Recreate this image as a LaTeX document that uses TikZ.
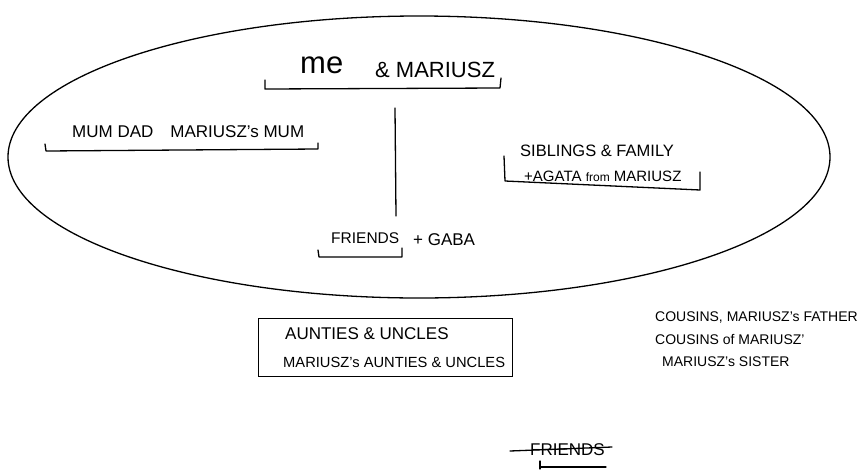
\documentclass[tikz,border=0pt]{standalone}
\usepackage{fontspec}
\setmainfont{Liberation Sans}
\begin{document}
\begin{tikzpicture}[x=1pt,y=-1pt,
  ink/.style={line width=1.3pt,line cap=round,line join=round,black},
  hand/.style={inner sep=0pt,font=\fontsize{17}{19}\selectfont,anchor=west},
  small/.style={inner sep=0pt,font=\fontsize{14}{16}\selectfont,anchor=west},
  big/.style={inner sep=0pt,font=\fontsize{31}{33}\selectfont,anchor=west}]
\useasboundingbox (0,0) rectangle (865,469);
% outer ellipse
\draw[ink] (419,157) ellipse [x radius=411, y radius=141];
% top node
\node[big] (me) at (300,65) {me};
\node[inner sep=0pt,font=\fontsize{22}{24}\selectfont,anchor=west] (mar) at (375,70) {\& MARIUSZ};
\coordinate (meL) at (265,80);
\coordinate (meR) at (501,78);
\draw[ink] (meL) -- ++(0,9) -- (500,88) -- (meR);
% vertical line
\coordinate (vt) at (395,108);
\coordinate (vb) at (396,216);
\draw[ink] (vt) -- (vb);
% left group
\node[hand] (parents) at (72,132) {MUM DAD\quad MARIUSZ's MUM};
\draw[ink] (45,144) -- (46,151) -- (318,149) -- (318,143);
% right group
\node[small,font=\fontsize{16.5}{18}\selectfont] (sib) at (520,151) {SIBLINGS \& FAMILY};
\node[small,font=\fontsize{15}{18}\selectfont] (agata) at (524,176) {+AGATA {\fontsize{12}{13}\selectfont from} MARIUSZ};
\draw[ink] (504,156) -- (505,181) -- (700,190) -- (700,172);
% friends
\node[hand,font=\fontsize{15.5}{17}\selectfont] (friends) at (331,238) {FRIENDS};
\node[hand] (gaba) at (413,240) {+ GABA};
\draw[ink] (318,250) -- (319,257) -- (402,257) -- (402,248);
% box
\node[draw,line width=1pt,minimum width=254pt,minimum height=58pt,inner sep=0pt] (box) at (385,347) {};
\node[hand] (aunts) at (285,334) {AUNTIES \& UNCLES};
\node[hand,font=\fontsize{14.7}{17}\selectfont] (maunts) at (283,362) {MARIUSZ's AUNTIES \& UNCLES};
% cousins
\node[small] (c1) at (655,318) {COUSINS, MARIUSZ's FATHER};
\node[small] (c2) at (655,339) {COUSINS of MARIUSZ'};
\node[small] (c3) at (662,362) {MARIUSZ's SISTER};
% bottom friends
\node[hand] (friends2) at (530,450) {FRIENDS};
\draw[ink] (510,451) -- (612,447);
\draw[ink] (540,461) -- (540,469);
\draw[ink] (540,467) -- (606,467);
\end{tikzpicture}
\end{document}
